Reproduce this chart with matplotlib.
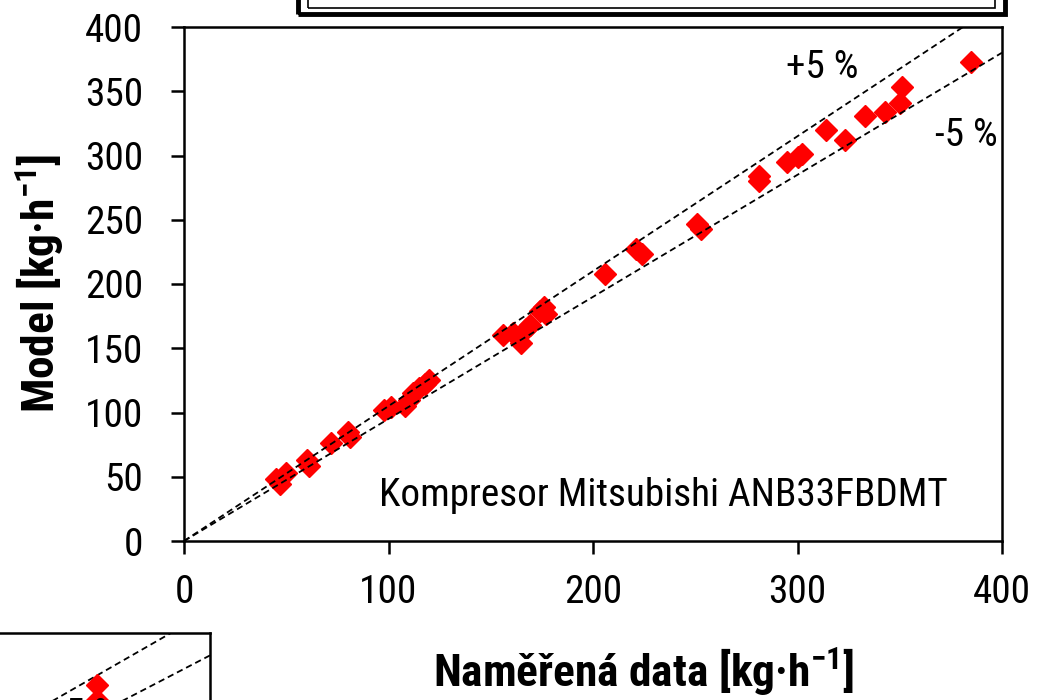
import os
import matplotlib
matplotlib.use("Agg")
import matplotlib.pyplot as plt
from matplotlib import font_manager as fm
from matplotlib.patches import Rectangle

# ---------------- data ----------------
measured = [45, 50, 47, 60, 61, 72, 80, 81, 98, 101, 108, 110, 112, 115, 118, 120,
            156, 161, 165, 167, 169, 174, 176, 177, 206, 221, 224, 251, 253,
            281, 281, 295, 300, 302, 314, 323, 333, 343, 350, 351, 385]
model = [48, 53, 44, 63, 58, 76, 85, 81, 102, 104, 105, 110, 115, 119, 122, 125,
         160, 162, 154, 165, 168, 179, 182, 177, 208, 227, 223, 247, 243,
         284, 280, 295, 299, 301, 320, 312, 331, 334, 341, 353, 373]
band_plus = 1.05
band_minus = 0.95
x_ticks = [0, 100, 200, 300, 400]
y_ticks = [0, 50, 100, 150, 200, 250, 300, 350, 400]

# partial neighbouring chart (cut off at the bottom-left of the picture)
inset_measured = [345, 345]
inset_model = [354, 340]

# ---------------- fonts: prefer a narrow sans ----------------
files = {os.path.basename(f.fname).lower(): f.fname for f in fm.fontManager.ttflist}
pairs = [
    ("liberationsansnarrow-regular.ttf", "liberationsansnarrow-bold.ttf"),
    ("arialn.ttf", "arialnb.ttf"),
    ("robotocondensed-regular.ttf", "robotocondensed-bold.ttf"),
    ("notosans-condensed.ttf", "notosans-condensedbold.ttf"),
    ("dejavusanscondensed.ttf", "dejavusanscondensed-bold.ttf"),
    ("opensans-condensed-regular.ttf", "opensans-condensed-bold.ttf"),
    ("liberationsans-regular.ttf", "liberationsans-bold.ttf"),
]
fp_reg = fp_bold = None
for r, b in pairs:
    if r in files and b in files:
        fp_reg = fm.FontProperties(fname=files[r])
        fp_bold = fm.FontProperties(fname=files[b])
        break
if fp_reg is None:
    fp_reg = fm.FontProperties(family="Liberation Sans")
    fp_bold = fm.FontProperties(family="Liberation Sans", weight="bold")

W, H = 1040, 700
fig = plt.figure(figsize=(W / 100, H / 100), dpi=100)
renderer = fig.canvas.get_renderer()

XLABEL = r"Naměřená data [kg·h$^{\mathdefault{-1}}$]"
YLABEL = r"Model [kg·h$^{\mathdefault{-1}}$]"


def fit_size(text, prop, target_px, max_pt=30.0, ismath=False):
    p = prop.copy()
    p.set_size(max_pt)
    w, _, _ = renderer.get_text_width_height_descent(text, p, ismath=ismath)
    return min(max_pt, max_pt * target_px / w)


size_reg = fit_size("Kompresor Mitsubishi ANB33FBDMT", fp_reg, 570)
size_bold = fit_size(XLABEL, fp_bold, 422, max_pt=33.0, ismath=True)


def P(base, size):
    p = base.copy()
    p.set_size(size)
    return p


REG = P(fp_reg, size_reg)
BOLD = P(fp_bold, size_bold)


def fx(px):
    return px / W


def fy(py):
    return 1 - py / H


# ---------------- main axes ----------------
ax = fig.add_axes([fx(184), fy(541), (1002 - 184) / W, (541 - 27) / H])
ax.set_xlim(0, 400)
ax.set_ylim(0, 400)

lim = [0, 400]
ax.plot(lim, [band_plus * v for v in lim], color="black", lw=1.3,
        linestyle=(0, (3.5, 2.2)), zorder=3)
ax.plot(lim, [band_minus * v for v in lim], color="black", lw=1.3,
        linestyle=(0, (3.5, 2.2)), zorder=3)
ax.plot(measured, model, linestyle="none", marker="D", ms=11,
        color="#FF0000", mec="#FF0000", zorder=2)

ax.set_xticks(x_ticks)
ax.set_yticks(y_ticks)
ax.set_xticklabels([str(v) for v in x_ticks], fontproperties=REG)
ax.set_yticklabels([str(v) for v in y_ticks], fontproperties=REG)
ax.tick_params(axis="both", direction="out", length=9.5, width=1.8)
ax.tick_params(axis="x", pad=14)
ax.tick_params(axis="y", pad=20)
for sp in ax.spines.values():
    sp.set_linewidth(1.8)

fig.text(fx(822), fy(68), "+5 %", fontproperties=REG, ha="center", va="center")
fig.text(fx(966), fy(136), "-5 %", fontproperties=REG, ha="center", va="center")
fig.text(fx(663), fy(495), "Kompresor Mitsubishi ANB33FBDMT", fontproperties=REG,
         ha="center", va="center")

fig.text(fx(644), fy(672), XLABEL, fontproperties=BOLD, ha="center", va="center")
fig.text(fx(40), fy(283), YLABEL, fontproperties=BOLD, ha="center", va="center",
         rotation=90)

# ---------------- partial neighbouring chart (bottom-left) ----------------
ax2 = fig.add_axes([fx(-610), fy(1081), 820 / W, (1081 - 633) / H])
ax2.set_xlim(0, 400)
ax2.set_ylim(0, 400)
ax2.plot(lim, [band_plus * v for v in lim], color="black", lw=1.3,
         linestyle=(0, (3.5, 2.2)))
ax2.plot(lim, [band_minus * v for v in lim], color="black", lw=1.3,
         linestyle=(0, (3.5, 2.2)))
ax2.plot(inset_measured, inset_model, linestyle="none", marker="D", ms=11,
         color="#FF0000")
ax2.set_xticks([])
ax2.set_yticks([])
for sp in ax2.spines.values():
    sp.set_linewidth(1.8)
fig.text(fx(82), fy(697), "+5 %", fontproperties=REG, ha="center", va="top")

# ---------------- box of the chart above (top) ----------------
fig.patches.append(Rectangle((298, H - 14), 1005 - 298, 40, transform=None,
                             fill=False, lw=3.5, ec="black"))
fig.patches.append(Rectangle((308, H - 8), 995 - 308, 40, transform=None,
                             fill=False, lw=1.2, ec="black"))

fig.savefig("out.png", dpi=100)
